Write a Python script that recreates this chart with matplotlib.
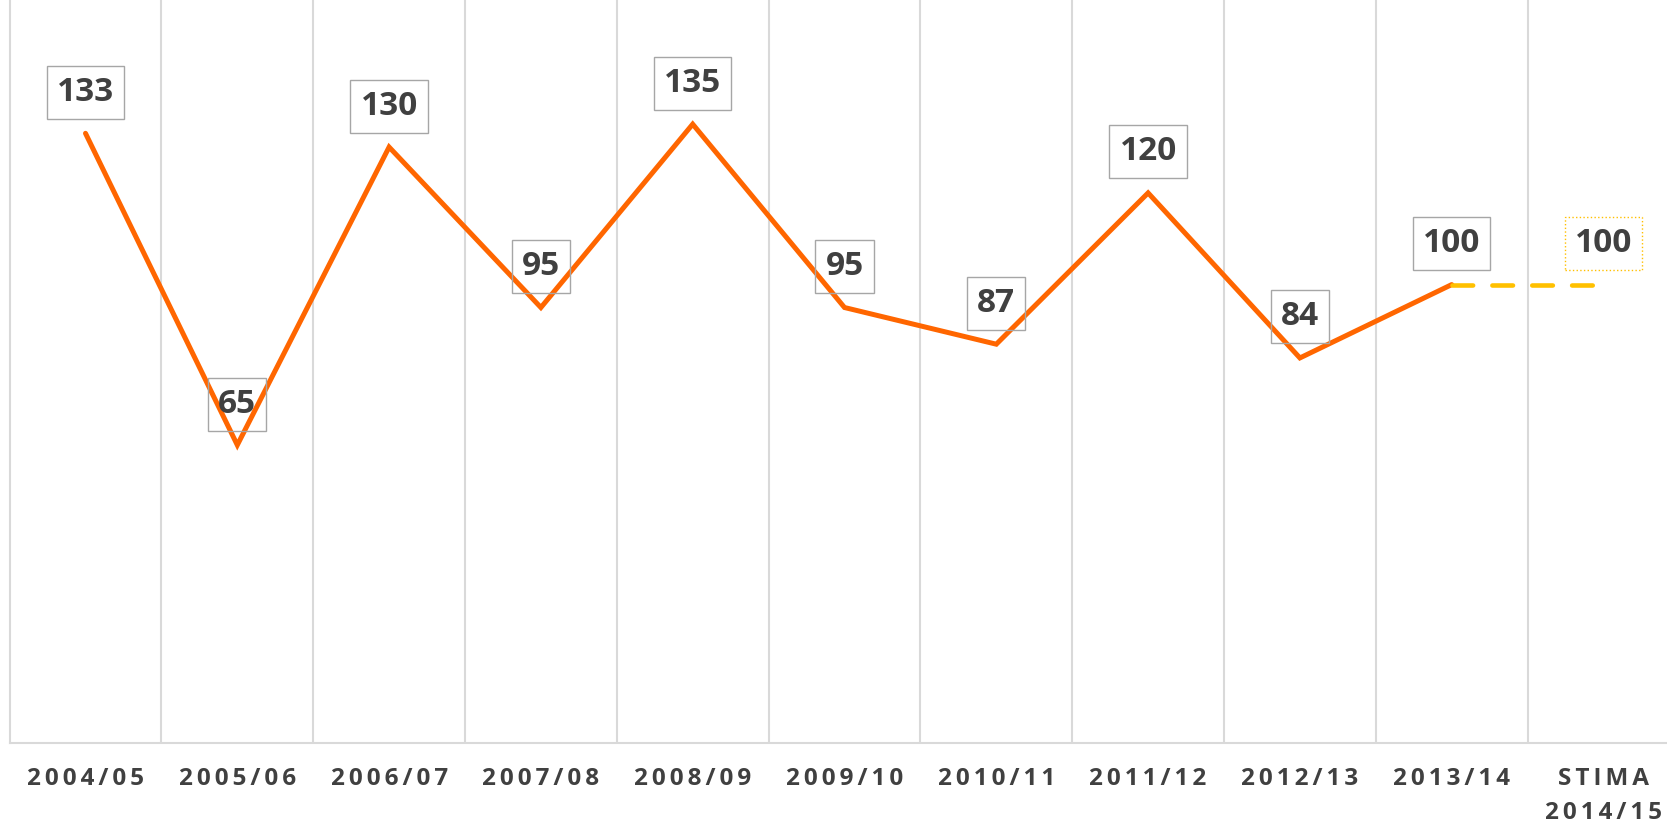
import matplotlib
matplotlib.use("Agg")
import matplotlib.pyplot as plt

categories = ["2004/05", "2005/06", "2006/07", "2007/08", "2008/09", "2009/10",
              "2010/11", "2011/12", "2012/13", "2013/14", "STIMA\n2014/15"]
values = [133, 65, 130, 95, 135, 95, 87, 120, 84, 100, 100]
n_actual = 10  # first 10 points are actual, last is estimate

ORANGE = "#FF6600"
YELLOW = "#FFC000"
GRID = "#D9D9D9"
TEXT = "#404040"

W, H = 1667, 827
fig = plt.figure(figsize=(W / 100, H / 100), dpi=100)
left_px, bottom_px = 9.6, 743
ax = fig.add_axes([left_px / W, (H - bottom_px) / H, 1 - left_px / W, bottom_px / H])

cat_w = 151.8
ax.set_xlim(-0.5, -0.5 + (W - left_px) / cat_w)
ax.set_ylim(0, bottom_px / 4.584)

x = list(range(len(categories)))

for xi in [i + 0.5 for i in range(len(categories) - 1)]:
    ax.axvline(xi, color=GRID, lw=1.5, zorder=0)

for s in ["top", "right"]:
    ax.spines[s].set_visible(False)
ax.spines["left"].set_color(GRID)
ax.spines["left"].set_linewidth(1.5)
ax.spines["bottom"].set_color(GRID)
ax.spines["bottom"].set_linewidth(1.5)

ax.plot(x[:n_actual], values[:n_actual], color=ORANGE, lw=3.6,
        solid_capstyle="round", solid_joinstyle="miter", zorder=3)
ax.plot(x[n_actual - 1:], values[n_actual - 1:], color=YELLOW, lw=3.3,
        dashes=(4.5, 4.2), dash_capstyle="round", zorder=3)

for i, (xi, v) in enumerate(zip(x, values)):
    last = i == len(values) - 1
    ax.annotate(str(v), (xi, v), xytext=(0, 29.5), textcoords="offset points",
                ha="center", va="center", fontsize=24, fontweight="bold",
                color=TEXT, family=["Open Sans", "DejaVu Sans"], zorder=4,
                bbox=dict(boxstyle="square,pad=0.3", fc="none",
                          ec=YELLOW if last else "#A6A6A6",
                          ls=":" if last else "-", lw=1.0))

def spaced(s):
    return "\n".join("\u2006".join(line) for line in s.split("\n"))

ax.set_xticks(x)
ax.set_xticklabels([spaced(c) for c in categories], fontsize=17.5,
                   fontweight="bold", color=TEXT,
                   family=["Open Sans", "DejaVu Sans"], linespacing=1.55)
ax.tick_params(axis="x", length=0, pad=17)
ax.set_yticks([])

fig.savefig("out.png", dpi=100)
